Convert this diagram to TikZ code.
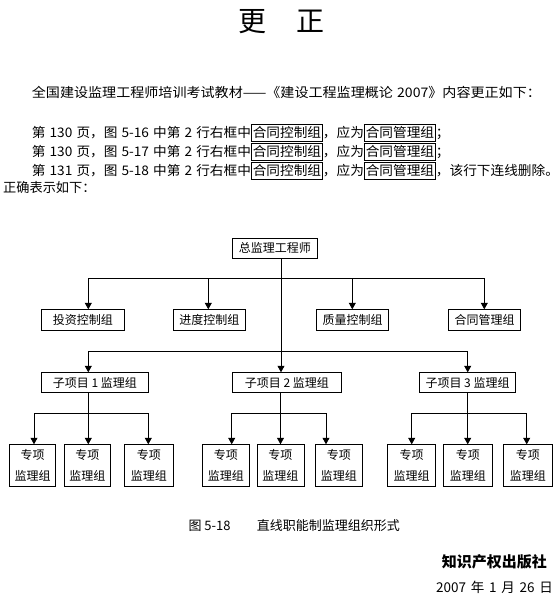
\documentclass[tikz,border=0pt]{standalone}
\usepackage{fontspec}
\usepackage{graphicx}
\setmainfont{Noto Sans CJK SC}
\usetikzlibrary{arrows.meta}
\newcommand{\bx}[1]{{\setlength{\fboxsep}{1pt}\setlength{\fboxrule}{0.8pt}\fbox{\rule[-3pt]{0pt}{13pt}#1}}}
\newcommand{\hs}{\hspace{0.3em}}
\newcommand{\ds}{\hspace{0.35em}}
\begin{document}
\begin{tikzpicture}[x=1pt,y=-1pt,
  box/.style={draw, line width=0.8pt, inner sep=0pt, anchor=north west,
    font=\fontsize{12}{21}\selectfont, align=center},
  ln/.style={line width=0.8pt},
  arr/.style={line width=0.8pt, -{Triangle[length=6.5pt,width=7pt]}},
  txt/.style={inner sep=0pt, font=\fontsize{13.2}{15}\selectfont}]
\useasboundingbox (0,0) rectangle (559,598);

% title
\node[inner sep=0pt, anchor=base, font=\fontsize{28}{30}\selectfont] (t1) at (252,31.6) {更};
\node[inner sep=0pt, anchor=base, font=\fontsize{28}{30}\selectfont] (t2) at (310,31.6) {正};

% body text
\node[txt, anchor=base west] (p1) at (31.7,97.6) {\resizebox{509pt}{\height}{全国建设监理工程师培训考试教材——《建设工程监理概论\hs 2007》内容更正如下：}};
\node[txt, anchor=base west] (p2) at (31.7,137) {\scalebox{1.035}[1]{第\hs 130\hs 页，图\hs 5-16\hs 中第\hs 2\hs 行右框中\bx{合同控制组}，应为\bx{合同管理组}；}};
\node[txt, anchor=base west] (p3) at (31.7,156) {\scalebox{1.035}[1]{第\hs 130\hs 页，图\hs 5-17\hs 中第\hs 2\hs 行右框中\bx{合同控制组}，应为\bx{合同管理组}；}};
\node[txt, anchor=base west] (p4) at (31.7,175) {\resizebox{527pt}{\height}{第\hs 131\hs 页，图\hs 5-18\hs 中第\hs 2\hs 行右框中\bx{合同控制组}，应为\bx{合同管理组}，该行下连线删除。}};
\node[txt, anchor=base west] (p5) at (3,192) {正确表示如下：};

% diagram nodes
\node[box, minimum width=85, minimum height=20] (top) at (232,237.5) {总监理工程师};

\node[box, minimum width=83.6, minimum height=21] (c1) at (40.7,309.3) {投资控制组};
\node[box, minimum width=72.3, minimum height=21] (c2) at (172.7,309.3) {进度控制组};
\node[box, minimum width=72.3, minimum height=21] (c3) at (316,309.3) {质量控制组};
\node[box, minimum width=71.7, minimum height=21] (c4) at (448.3,309.3) {合同管理组};

\node[box, minimum width=107.6, minimum height=20] (s1) at (40.7,372.3) {子项目 1 监理组};
\node[box, minimum width=108.4, minimum height=20] (s2) at (232.3,372.3) {子项目 2 监理组};
\node[box, minimum width=95.7, minimum height=20] (s3) at (419.3,372.3) {子项目 3 监理组};

\node[box, minimum width=45.7, minimum height=41.7] (g11) at (9.3,444.3) {专项\\监理组};
\node[box, minimum width=46, minimum height=41.7] (g12) at (64,444.3) {专项\\监理组};
\node[box, minimum width=48.4, minimum height=41.7] (g13) at (124.3,444.3) {专项\\监理组};
\node[box, minimum width=47.6, minimum height=41.7] (g21) at (201.7,444.3) {专项\\监理组};
\node[box, minimum width=47, minimum height=41.7] (g22) at (256.5,444.3) {专项\\监理组};
\node[box, minimum width=46.7, minimum height=41.7] (g23) at (315,444.3) {专项\\监理组};
\node[box, minimum width=47.7, minimum height=41.7] (g31) at (387.3,444.3) {专项\\监理组};
\node[box, minimum width=48.4, minimum height=41.7] (g32) at (443.3,444.3) {专项\\监理组};
\node[box, minimum width=48.4, minimum height=41.7] (g33) at (503.3,444.3) {专项\\监理组};

% junction coordinates
\coordinate (j0) at (281,278.3);
\coordinate (j1) at (281,351.7);
\coordinate (b1l) at (88.3,278.3);
\coordinate (b1a) at (208.3,278.3);
\coordinate (b1b) at (352.3,278.3);
\coordinate (b1r) at (484.3,278.3);
\coordinate (b2l) at (88.3,351.7);
\coordinate (b2r) at (467.7,351.7);
\coordinate (k1) at (88.3,413.3);
\coordinate (k1l) at (34,413.3);
\coordinate (k1r) at (148.3,413.3);
\coordinate (k2) at (280.5,413.3);
\coordinate (k2l) at (231.7,413.3);
\coordinate (k2r) at (326,413.3);
\coordinate (k3) at (467.7,413.3);
\coordinate (k3l) at (411.7,413.3);
\coordinate (k3r) at (526.7,413.3);

% connectors
\draw[ln] (top.south -| j0) -- (j1);
\draw[ln] (b1l) -- (b1r);
\draw[arr] (b1l) -- (b1l |- c1.north);
\draw[arr] (b1a) -- (b1a |- c2.north);
\draw[arr] (b1b) -- (b1b |- c3.north);
\draw[arr] (b1r) -- (b1r |- c4.north);

\draw[ln] (b2l) -- (b2r);
\draw[arr] (b2l) -- (b2l |- s1.north);
\draw[arr] (j1) -- (j1 |- s2.north);
\draw[arr] (b2r) -- (b2r |- s3.north);

\draw[ln] (s1.south -| k1) -- (k1);
\draw[ln] (k1l) -- (k1r);
\draw[arr] (k1l) -- (k1l |- g11.north);
\draw[arr] (k1) -- (k1 |- g12.north);
\draw[arr] (k1r) -- (k1r |- g13.north);

\draw[ln] (s2.south -| k2) -- (k2);
\draw[ln] (k2l) -- (k2r);
\draw[arr] (k2l) -- (k2l |- g21.north);
\draw[arr] (k2) -- (k2 |- g22.north);
\draw[arr] (k2r) -- (k2r |- g23.north);

\draw[ln] (s3.south -| k3) -- (k3);
\draw[ln] (k3l) -- (k3r);
\draw[arr] (k3l) -- (k3l |- g31.north);
\draw[arr] (k3) -- (k3 |- g32.north);
\draw[arr] (k3r) -- (k3r |- g33.north);

% caption and signature
\node[inner sep=0pt, anchor=base west, font=\fontsize{13}{15}\selectfont] (cap1) at (188.3,530) {图 5-18};
\node[inner sep=0pt, anchor=base east, font=\fontsize{13}{15}\selectfont] (cap2) at (400,530) {直线职能制监理组织形式};
\node[inner sep=0pt, anchor=base east, font=\fontsize{15}{17}\selectfont\bfseries] (sig) at (547,567.4) {知识产权出版社};
\node[inner sep=0pt, anchor=base east, font=\fontsize{13.5}{15}\selectfont] (date) at (553,592) {2007\ds 年\ds 1\ds 月\ds 26\ds 日};
\end{tikzpicture}
\end{document}
